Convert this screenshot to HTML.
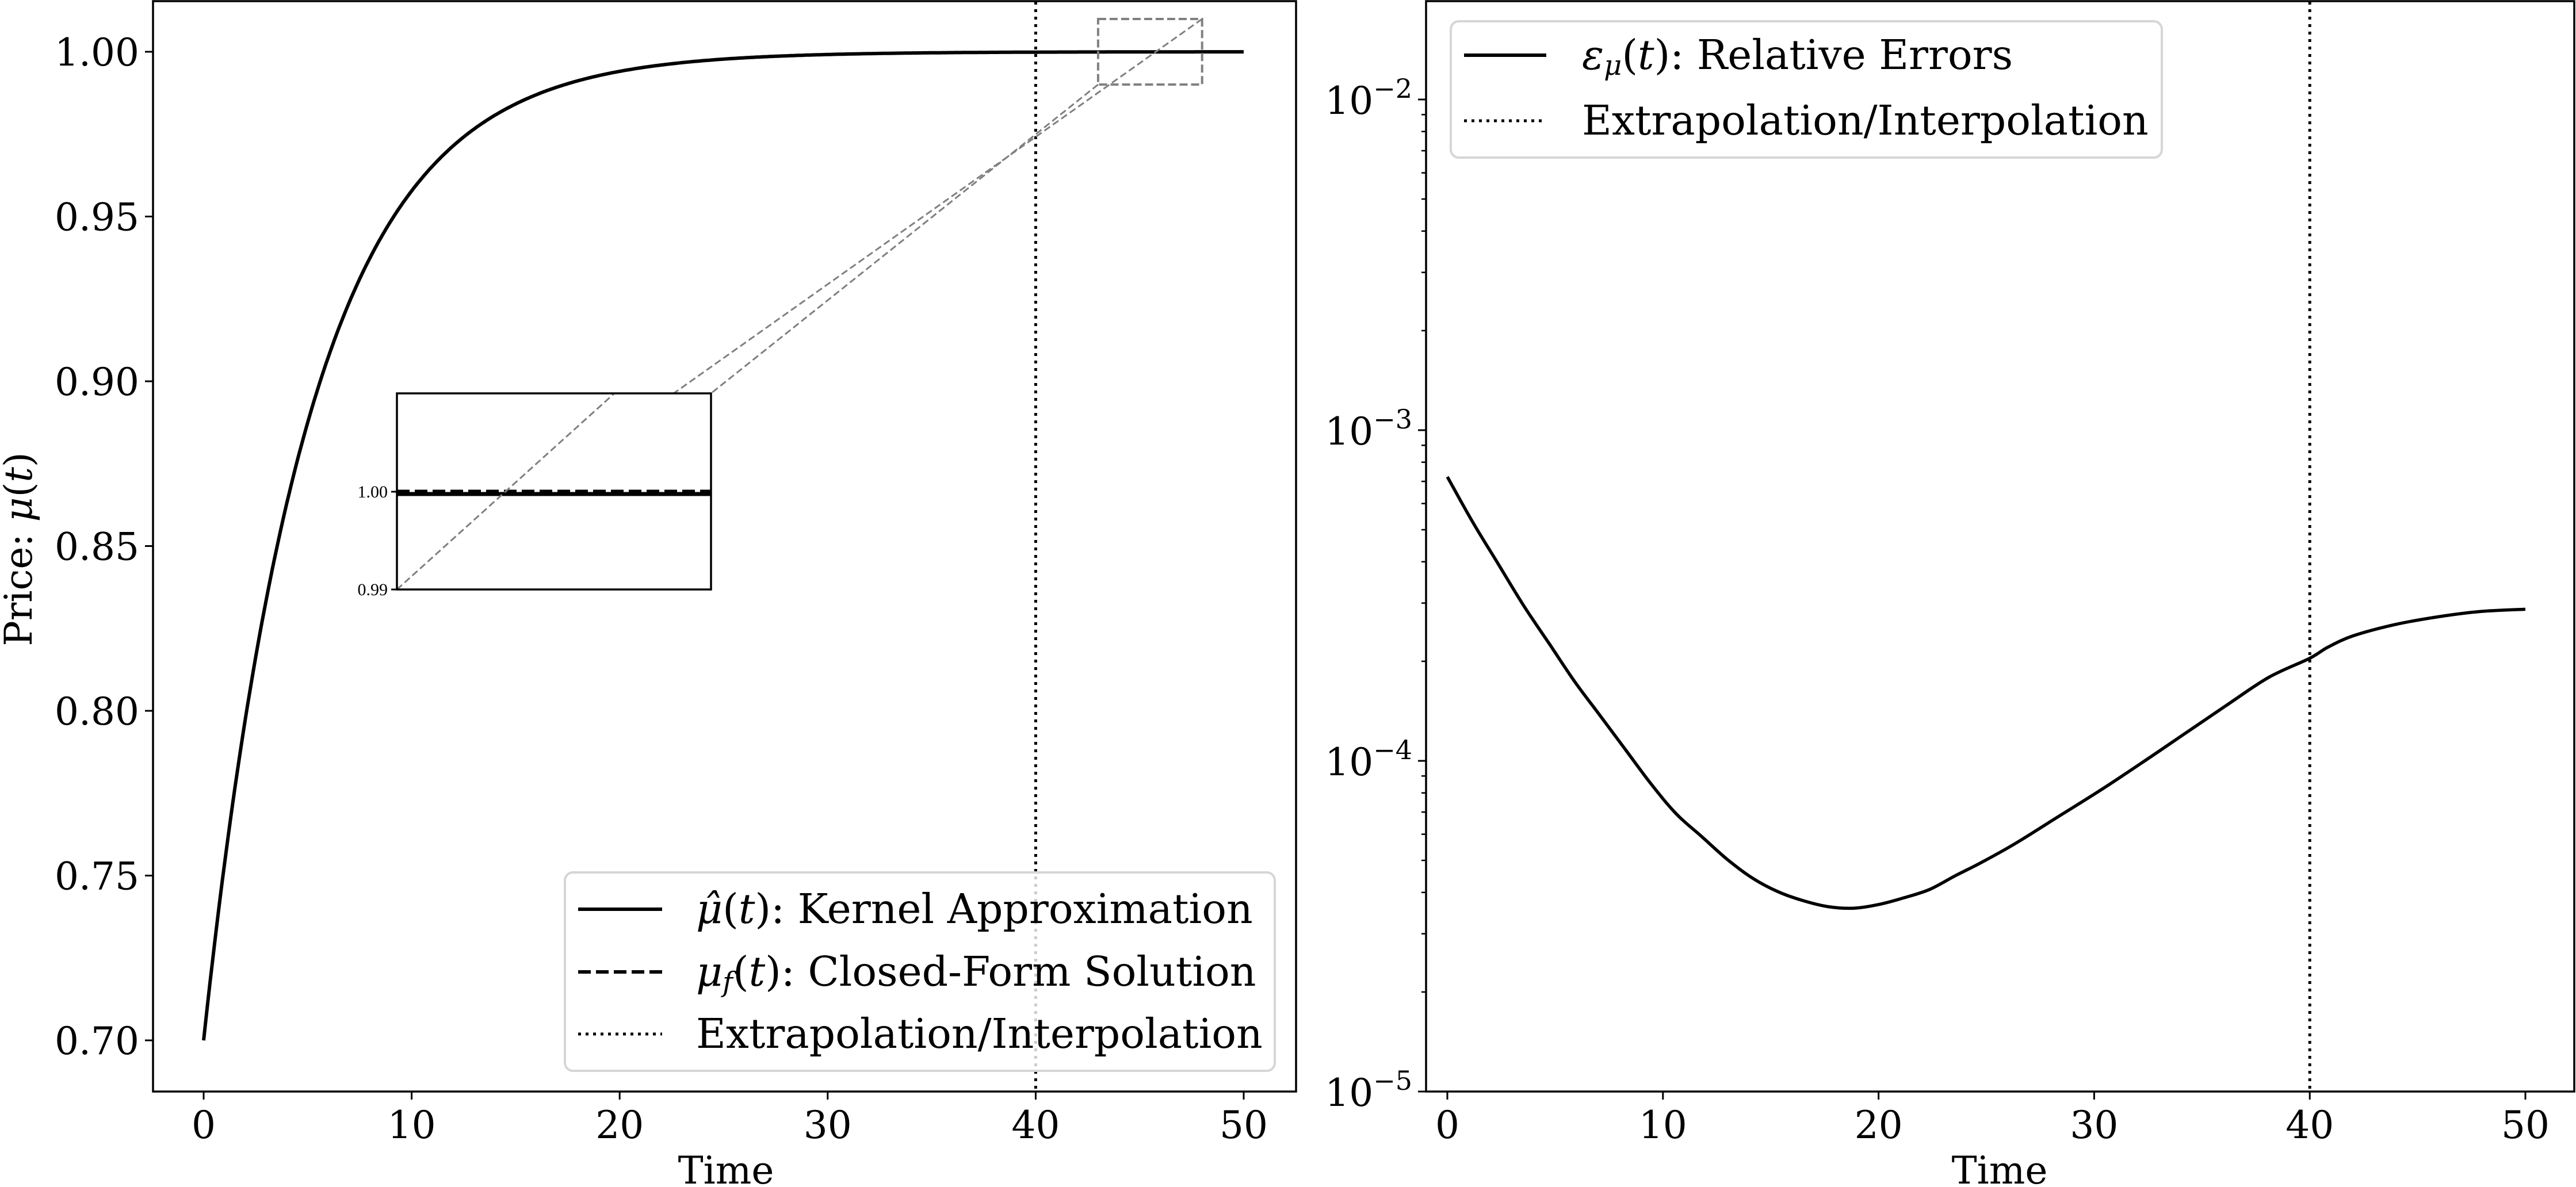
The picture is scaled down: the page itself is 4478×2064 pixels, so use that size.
<!DOCTYPE html>
<html><head><meta charset="utf-8"><style>
html,body{margin:0;padding:0;background:#fff;}
svg{display:block;font-family:"DejaVu Serif","Liberation Serif",serif;}
</style></head><body>
<svg id="s" width="4478" height="2064" viewBox="0 0 4478 2064" xmlns="http://www.w3.org/2000/svg">
<rect width="4478" height="2064" fill="#fff"/>
<g id="L"></g>
<g id="R"></g>
<text transform="translate(55,955) rotate(-90)" font-size="66" text-anchor="middle">Price: <tspan font-style="italic">μ</tspan>(<tspan font-style="italic">t</tspan>)</text>
<text x="1262" y="2058" font-size="66" text-anchor="middle">Time</text>
<text x="3476" y="2058" font-size="66" text-anchor="middle">Time</text>
<rect x="982" y="1517" width="1234" height="345" rx="14" fill="#fff" fill-opacity="0.8" stroke="#d6d6d6" stroke-width="4"/>
<line x1="1005" y1="1581" x2="1151" y2="1581" stroke="#000" stroke-width="6"/>
<line x1="1005" y1="1690" x2="1151" y2="1690" stroke="#000" stroke-width="6" stroke-dasharray="22,9"/>
<line x1="1005" y1="1798" x2="1151" y2="1798" stroke="#000" stroke-width="5" stroke-dasharray="5,8"/>
<text x="1210" y="1605" font-size="71"><tspan font-style="italic">μ̂</tspan>(<tspan font-style="italic">t</tspan>): Kernel Approximation</text>
<text x="1210" y="1714" font-size="71"><tspan font-style="italic">μ</tspan><tspan font-style="italic" font-size="48" dy="10">f</tspan><tspan dy="-10">(</tspan><tspan font-style="italic">t</tspan>): Closed-Form Solution</text>
<text x="1210" y="1822" font-size="71">Extrapolation/Interpolation</text>
<rect x="2522" y="37" width="1236" height="237" rx="14" fill="#fff" fill-opacity="0.8" stroke="#d6d6d6" stroke-width="4"/>
<line x1="2545" y1="96" x2="2688" y2="96" stroke="#000" stroke-width="6"/>
<line x1="2545" y1="210" x2="2688" y2="210" stroke="#000" stroke-width="5" stroke-dasharray="5,8"/>
<text x="2750" y="120" font-size="71"><tspan font-style="italic">ε</tspan><tspan font-style="italic" font-size="48" dy="10">μ</tspan><tspan dy="-10">(</tspan><tspan font-style="italic">t</tspan>): Relative Errors</text>
<text x="2750" y="234" font-size="71">Extrapolation/Interpolation</text>
</svg>
<script>
var NS="http://www.w3.org/2000/svg";
function el(p,t,a,txt){var e=document.createElementNS(NS,t);for(var k in a)e.setAttribute(k,a[k]);if(txt!==undefined)e.textContent=txt;p.appendChild(e);return e;}
var L=document.getElementById('L'),R=document.getElementById('R');
var x0=354,xs=36.16,y07=1809,ys=5730;
function lx(t){return x0+t*xs;} function ly(v){return y07-(v-0.7)*ys;}
var d="";
for(var i=0;i<=500;i++){var t=i*0.1;var v=1-0.3*Math.exp(-t/5.1);d+=(i?"L":"M")+lx(t).toFixed(1)+","+ly(v).toFixed(1);}
el(L,'path',{d:d,fill:'none',stroke:'#000','stroke-width':6});
el(L,'path',{d:d,fill:'none',stroke:'#000','stroke-width':5,'stroke-dasharray':'22,9'});
el(L,'line',{x1:lx(40),y1:3,x2:lx(40),y2:1898,stroke:'#000','stroke-width':5,'stroke-dasharray':'5,8'});
var bx1=lx(43),bx2=lx(48);
el(L,'rect',{x:bx1,y:33,width:bx2-bx1,height:114,fill:'none',stroke:'#808080','stroke-width':4,'stroke-dasharray':'14,6'});
el(L,'line',{x1:bx2,y1:33,x2:690,y2:1025,stroke:'#808080','stroke-width':3,'stroke-dasharray':'12,6'});
el(L,'line',{x1:bx1,y1:147,x2:1236,y2:684,stroke:'#808080','stroke-width':3,'stroke-dasharray':'12,6'});
el(L,'rect',{x:690,y:684,width:546,height:341,fill:'#fff'});
el(L,'line',{x1:690,y1:859,x2:1236,y2:859,stroke:'#000','stroke-width':7});
el(L,'line',{x1:690,y1:854,x2:1236,y2:854,stroke:'#000','stroke-width':5,'stroke-dasharray':'22,9'});
el(L,'line',{x1:690,y1:1025,x2:1068,y2:684,stroke:'#808080','stroke-width':3,'stroke-dasharray':'12,6'});
el(L,'rect',{x:690,y:684,width:546,height:341,fill:'none',stroke:'#000','stroke-width':3.5});
[[855,"1.00"],[1025,"0.99"]].forEach(function(a){el(L,'line',{x1:680,y1:a[0],x2:690,y2:a[0],stroke:'#000','stroke-width':3});el(L,'text',{x:674,y:a[0]+10,'font-size':30,'text-anchor':'end','font-family':'Liberation Serif'},a[1]);});
el(L,'rect',{x:266,y:2,width:1987,height:1896,fill:'none',stroke:'#000','stroke-width':3.5});
for(var k=0;k<=6;k++){var v=0.7+k*0.05,y=ly(v);el(L,'line',{x1:252,y1:y,x2:266,y2:y,stroke:'#000','stroke-width':3});el(L,'text',{x:242,y:y+24,'font-size':66,'text-anchor':'end'},v.toFixed(2));}
for(var k=0;k<=5;k++){var x=lx(k*10);el(L,'line',{x1:x,y1:1898,x2:x,y2:1912,stroke:'#000','stroke-width':3});el(L,'text',{x:x,y:1979,'font-size':66,'text-anchor':'middle'},String(k*10));}
// RIGHT
var AX=2479;
var rx0=2516,rxs=37.48;function rx(t){return rx0+t*rxs;}
function ry(v){return 1898-(Math.log10(v)+5)*575;}
var pts=[[230,630],[260,690],[290,745],[320,800],[350,850],[380,900],[410,945],[440,990],[470,1035],[500,1075],[530,1105],[560,1135],[590,1160],[620,1178],[650,1190],[680,1198],[710,1200],[740,1195],[770,1186],[800,1175],[830,1157],[860,1140],[900,1115],[950,1080],[1000,1045],[1050,1008],[1100,970],[1150,932],[1200,895],[1248,870],[1270,855],[1300,840],[1350,825],[1400,815],[1450,808],[1503,805]];
var P=pts.map(function(p){var t=(p[0]-230)/25.46;return [rx(t),p[1]*1.316];});
var dr="M"+P[0][0].toFixed(1)+","+P[0][1].toFixed(1);
for(var i=0;i<P.length-1;i++){var p0=P[Math.max(0,i-1)],p1=P[i],p2=P[i+1],p3=P[Math.min(P.length-1,i+2)];
 var c1x=p1[0]+(p2[0]-p0[0])/6,c1y=p1[1]+(p2[1]-p0[1])/6,c2x=p2[0]-(p3[0]-p1[0])/6,c2y=p2[1]-(p3[1]-p1[1])/6;
 dr+="C"+c1x.toFixed(1)+","+c1y.toFixed(1)+" "+c2x.toFixed(1)+","+c2y.toFixed(1)+" "+p2[0].toFixed(1)+","+p2[1].toFixed(1);}
el(R,'path',{d:dr,fill:'none',stroke:'#000','stroke-width':5.5,'stroke-linejoin':'round'});
el(R,'line',{x1:rx(40),y1:3,x2:rx(40),y2:1898,stroke:'#000','stroke-width':5,'stroke-dasharray':'5,8'});
el(R,'rect',{x:AX,y:2,width:4475-AX,height:1896,fill:'none',stroke:'#000','stroke-width':3.5});
for(var e=-5;e<=-2;e++){var y=ry(Math.pow(10,e));el(R,'line',{x1:AX-14,y1:y,x2:AX,y2:y,stroke:'#000','stroke-width':3});
 var t=el(R,'text',{x:AX-24,y:y+25,'font-size':66,'text-anchor':'end'});
 var a=document.createElementNS(NS,'tspan');a.textContent="10";t.appendChild(a);
 var b=document.createElementNS(NS,'tspan');b.setAttribute('dy','-28');b.setAttribute('font-size','46');b.textContent="−"+(-e);t.appendChild(b);
 for(var m=2;m<=9;m++){var v=m*Math.pow(10,e);var yy=ry(v);if(yy<4)continue;el(R,'line',{x1:AX-8,y1:yy,x2:AX,y2:yy,stroke:'#000','stroke-width':2.5});}
}
for(var k=0;k<=5;k++){var x=rx(k*10);el(R,'line',{x1:x,y1:1898,x2:x,y2:1912,stroke:'#000','stroke-width':3});el(R,'text',{x:x,y:1979,'font-size':66,'text-anchor':'middle'},String(k*10));}
</script>
</body></html>
